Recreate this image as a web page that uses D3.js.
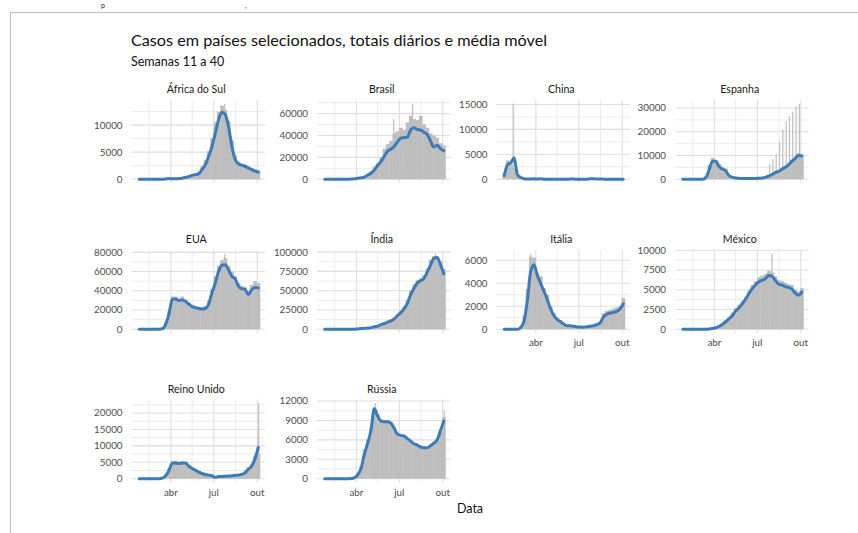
<!DOCTYPE html>
<html>
<head>
<meta charset="utf-8">
<script src="https://cdn.jsdelivr.net/npm/d3@7"></script>
<style>
  body { margin: 0; background: #fff; }
  text { font-family: Lato, "Open Sans", sans-serif; }
</style>
</head>
<body>
<div id="chart"></div>
<script>
// Dados (valores diários aproximados por semana e média móvel)
const paises = ["África do Sul", "Brasil", "China", "Espanha", "EUA", "Índia", "Itália", "México", "Reino Unido", "Rússia"];

const semanas = ["2020-01-25","2020-02-01","2020-02-08","2020-02-15","2020-02-22","2020-02-29","2020-03-07",
  "2020-03-14","2020-03-21","2020-03-28","2020-04-04","2020-04-11","2020-04-18","2020-04-25","2020-05-02",
  "2020-05-09","2020-05-16","2020-05-23","2020-05-30","2020-06-06","2020-06-13","2020-06-20","2020-06-27",
  "2020-07-04","2020-07-11","2020-07-18","2020-07-25","2020-08-01","2020-08-08","2020-08-15","2020-08-22",
  "2020-08-29","2020-09-05","2020-09-12","2020-09-19","2020-09-26","2020-10-03"];

const diarios = [
  // África do Sul
  [0,0,0,0,0,0,0,10,100,250,100,120,250,350,500,700,950,1100,1400,2400,3600,5200,7600,10500,12500,13600,12800,10800,7200,4400,3300,2900,2700,2300,2100,1800,1600],
  // Brasil
  [0,0,0,0,0,0,5,40,250,500,1200,1800,3000,5000,7500,11500,15000,20000,28000,32000,35000,42000,44000,47000,45000,52000,58000,55000,54000,58000,50000,47000,42000,40000,38000,33000,31000],
  // China
  [1300,3800,3000,2300,600,300,80,25,80,100,70,90,20,10,5,10,15,5,5,15,35,25,15,10,10,25,100,120,40,25,20,15,15,10,15,20,15],
  // Espanha
  [0,0,0,0,0,0,80,1500,6000,9000,8000,6500,5000,4500,1800,1000,600,500,350,350,400,400,450,500,700,1000,1500,2300,3200,3800,4800,5500,6500,8200,9500,11000,10500],
  // EUA
  [0,0,0,0,0,0,100,800,7500,19000,34000,34000,32000,34000,31000,28000,25500,24000,23000,22500,24000,30000,42000,55000,66000,72000,74000,66000,60000,55000,48000,45000,44000,39000,46000,50000,48000],
  // Índia
  [0,0,0,0,0,0,5,20,80,200,700,1100,1500,2000,2800,3800,5000,6800,8500,10000,12000,15000,19500,24500,29500,38000,50000,58000,64000,66000,70000,79000,90000,95000,93000,88000,78000],
  // Itália
  [0,0,0,0,0,250,1200,3500,6300,6200,4800,4600,3600,3000,2000,1400,1000,800,550,400,350,300,260,230,250,280,300,380,550,650,1400,1600,1700,1800,1900,2000,2700],
  // México
  [0,0,0,0,0,0,0,10,40,120,250,450,800,1200,1600,2100,2700,3100,3600,4100,4900,5600,6100,6600,6800,7000,7400,7200,6700,6200,6100,5900,5700,5600,5000,4800,5200],
  // Reino Unido
  [0,0,0,0,0,0,50,300,1300,3200,5400,5500,5200,5300,5000,4200,3500,2900,2300,1800,1500,1300,1000,600,800,850,900,1000,1100,1200,1400,1600,2500,3500,4500,7000,7500],
  // Rússia
  [0,0,0,0,0,0,0,15,60,270,900,2000,4500,6000,8000,11000,10000,9200,9000,9000,8800,8000,7000,6800,6700,6300,5900,5500,5300,5000,4900,4900,5200,5700,6200,7500,9500]
];

const medias = [
  // África do Sul
  [0,0,0,0,0,0,0,5,40,120,80,70,130,200,330,480,700,850,1000,1800,2700,4200,6000,8500,11000,12400,12000,9800,6200,3700,2800,2600,2400,2100,1800,1500,1350],
  // Brasil
  [0,0,0,0,0,0,2,20,150,350,900,1300,2000,3700,5500,8500,12500,16000,21000,25500,27500,30000,34000,37500,38000,38500,45000,47000,45500,45000,43000,41000,35000,29500,31000,28000,26000],
  // China
  [700,2900,3300,4300,900,350,100,30,60,80,60,80,20,10,5,10,15,5,5,10,30,25,15,10,10,20,80,100,40,25,20,15,15,10,15,20,15],
  // Espanha
  [0,0,0,0,0,0,40,700,4000,7600,7600,5300,4300,3600,1500,900,500,400,300,300,350,350,350,400,500,800,1300,2000,2800,3300,4200,5000,6000,7500,8700,10000,9800],
  // EUA
  [0,0,0,0,0,0,60,500,5000,16000,31000,31500,30000,30500,29000,26000,23500,22500,21500,21000,21500,26000,38000,48000,60000,66500,67000,62000,55000,52500,45000,42000,41500,36000,41000,43500,43000],
  // Índia
  [0,0,0,0,0,0,5,10,40,110,450,800,1100,1600,2100,3300,4000,5900,7400,9200,10800,13500,17500,21500,26500,33500,45000,53000,60000,63000,66000,74000,83000,92000,93000,84000,72000],
  // Itália
  [0,0,0,0,0,150,700,2500,5000,5600,4700,4000,3300,2600,1800,1200,850,650,450,300,300,250,200,190,180,220,250,300,400,550,1050,1300,1400,1450,1550,1750,2200],
  // México
  [0,0,0,0,0,0,0,5,30,90,180,350,600,950,1300,1700,2300,2700,3200,3800,4500,5100,5600,6000,6200,6400,6800,6700,6200,5700,5600,5400,5300,5100,4600,4300,4700],
  // Reino Unido
  [0,0,0,0,0,0,30,200,900,2500,4700,4800,4600,4800,4800,3800,3100,2600,2000,1600,1300,1100,900,450,650,700,750,800,900,1000,1100,1300,1800,2900,3800,6000,9500],
  // Rússia
  [0,0,0,0,0,0,0,10,40,180,600,1600,3800,5500,7500,10800,9700,8900,8800,8800,8600,7800,6900,6700,6600,6200,5800,5400,5200,4900,4800,4800,5100,5500,6000,7400,8900]
];

// dias isolados com valores muito acima do resto
const picosPais = ["África do Sul","Brasil","Brasil","China","Espanha","Espanha","Espanha","Espanha","Espanha",
  "Espanha","Espanha","Espanha","Espanha","Espanha","EUA","Índia","Itália","México","Reino Unido","Reino Unido","Rússia","Rússia"];
const picosData = ["2020-07-24","2020-06-19","2020-07-29","2020-02-13","2020-07-27","2020-08-03","2020-08-10","2020-08-17",
  "2020-08-24","2020-08-31","2020-09-07","2020-09-14","2020-09-21","2020-09-28","2020-07-24","2020-09-16","2020-03-21",
  "2020-08-01","2020-10-03","2020-10-04","2020-05-11","2020-10-04"];
const picosValor = [13944,54800,69000,15136,6400,8500,10500,16000,21000,24500,26600,28500,30500,31800,78500,97900,6557,
  9556,12900,22961,11656,10499];

const ticksY = [
  [0,5000,10000], [0,20000,40000,60000], [0,5000,10000,15000], [0,10000,20000,30000],
  [0,20000,40000,60000,80000], [0,25000,50000,75000,100000], [0,2000,4000,6000],
  [0,2500,5000,7500,10000], [0,5000,10000,15000,20000], [0,3000,6000,9000,12000]
];

const ticksX = ["2020-04-01","2020-07-01","2020-10-01"];
const rotulosX = ["abr","jul","out"];
const ticksXMenores = ["2020-02-15","2020-05-16","2020-08-16"];
const periodo = ["2020-01-21T12:00","2020-10-04T12:00"];

// ---- layout
const width = 858, height = 533;
const colX = [131.5, 317, 496.5, 675];
const rowY = [100, 250, 399.5];
const pw = 133.5, ph = 83;
const cinza = "#bebebe", azul = "#3b7cb8";

const parseDia = d3.timeParse("%Y-%m-%d");
const parseHora = d3.timeParse("%Y-%m-%dT%H:%M");

const svg = d3.select("#chart")
    .append("svg")
    .attr("width", width)
    .attr("height", height)
    .style("background-color", "#ffffff");

// borda do recorte da tela
svg.append("line").attr("x1", 10).attr("x2", width).attr("y1", 12.5).attr("y2", 12.5)
    .attr("stroke", "#bdbdbd").attr("stroke-width", 1);
svg.append("line").attr("x1", 10.5).attr("x2", 10.5).attr("y1", 12).attr("y2", height)
    .attr("stroke", "#bdbdbd").attr("stroke-width", 1);

// restos do texto de cima
svg.append("text").attr("x", 101).attr("y", 8).attr("font-size", 7).attr("fill", "#222").text("p");
svg.append("text").attr("x", 245).attr("y", 8).attr("font-size", 7).attr("fill", "#222").text(",");

svg.append("text").attr("x", 131).attr("y", 46).attr("font-size", 16.2).attr("fill", "#111")
    .text("Casos em países selecionados, totais diários e média móvel");
svg.append("text").attr("x", 131).attr("y", 66).attr("font-size", 12.5).attr("fill", "#111")
    .text("Semanas 11 a 40");

const dom = periodo.map(parseHora);
const span = dom[1] - dom[0];
const x = d3.scaleTime()
    .domain([new Date(+dom[0] - 0.05 * span), new Date(+dom[1] + 0.05 * span)])
    .range([0, pw]);

const meioDia = 12 * 3600 * 1000;
const datasSem = semanas.map(parseDia);

paises.forEach((pais, i) => {
    const col = i % 4, row = Math.floor(i / 4);
    const g = svg.append("g").attr("transform", `translate(${colX[col]},${rowY[row]})`);

    const picos = picosPais.map((p, j) => ({ p, d: parseDia(picosData[j]), v: picosValor[j] }))
        .filter(e => e.p === pais);
    const maxV = d3.max([...diarios[i], ...picos.map(e => e.v)]);
    const y = d3.scaleLinear().domain([-0.05 * maxV, 1.05 * maxV]).range([ph, 0]);

    // grade
    const ty = ticksY[i];
    const passo = ty[1] - ty[0];
    const menoresY = ty.map(t => t + passo / 2).filter(t => t <= 1.05 * maxV);
    g.selectAll(".gmy").data(menoresY).enter().append("line")
        .attr("x1", 0).attr("x2", pw).attr("y1", d => y(d)).attr("y2", d => y(d))
        .attr("stroke", "#e6e6e6").attr("stroke-width", 0.8);
    g.selectAll(".gMy").data(ty).enter().append("line")
        .attr("x1", 0).attr("x2", pw).attr("y1", d => y(d)).attr("y2", d => y(d))
        .attr("stroke", "#dedede").attr("stroke-width", 1.1);
    g.selectAll(".gmx").data(ticksXMenores.map(parseDia)).enter().append("line")
        .attr("x1", d => x(d)).attr("x2", d => x(d)).attr("y1", 0).attr("y2", ph)
        .attr("stroke", "#e6e6e6").attr("stroke-width", 0.8);
    g.selectAll(".gMx").data(ticksX.map(parseDia)).enter().append("line")
        .attr("x1", d => x(d)).attr("x2", d => x(d)).attr("y1", 0).attr("y2", ph)
        .attr("stroke", "#dedede").attr("stroke-width", 1.1);

    // barras semanais
    g.selectAll(".bar").data(diarios[i]).enter().append("rect")
        .attr("x", (d, k) => x(new Date(+datasSem[k] - 7 * meioDia)))
        .attr("width", (d, k) => x(new Date(+datasSem[k] + 7 * meioDia)) - x(new Date(+datasSem[k] - 7 * meioDia)) + 0.4)
        .attr("y", d => y(d))
        .attr("height", d => y(0) - y(d))
        .attr("fill", cinza);

    // picos diários
    g.selectAll(".pico").data(picos).enter().append("rect")
        .attr("x", e => x(e.d) - 0.6)
        .attr("width", 1.2)
        .attr("y", e => y(e.v))
        .attr("height", e => y(0) - y(e.v))
        .attr("fill", cinza);

    // média móvel
    const linha = d3.line()
        .x((d, k) => x(datasSem[k]))
        .y(d => y(d))
        .curve(d3.curveMonotoneX);
    g.append("path").datum(medias[i])
        .attr("d", linha)
        .attr("fill", "none")
        .attr("stroke", azul)
        .attr("stroke-width", 3)
        .attr("stroke-linejoin", "round")
        .attr("stroke-linecap", "round");

    // eixo y
    g.selectAll(".ty").data(ty).enter().append("text")
        .attr("x", -9).attr("y", d => y(d)).attr("dy", "0.35em")
        .attr("text-anchor", "end").attr("font-size", 9.8).attr("fill", "#4d4d4d")
        .text(d => d);

    // título do painel
    g.append("text").attr("x", pw / 2 - 2).attr("y", -7)
        .attr("text-anchor", "middle").attr("font-size", 10.6).attr("fill", "#1a1a1a")
        .text(pais);

    // eixo x só nos painéis de baixo
    if (i + 4 >= paises.length) {
        g.selectAll(".tx").data(ticksX.map(parseDia)).enter().append("text")
            .attr("x", d => x(d)).attr("y", ph + 13)
            .attr("text-anchor", "middle").attr("font-size", 9.8).attr("fill", "#4d4d4d")
            .text((d, k) => rotulosX[k]);
    }
});

svg.append("text").attr("x", (colX[0] + colX[3] + pw) / 2).attr("y", 513)
    .attr("text-anchor", "middle").attr("font-size", 12.5).attr("fill", "#111")
    .text("Data");
</script>
</body>
</html>
